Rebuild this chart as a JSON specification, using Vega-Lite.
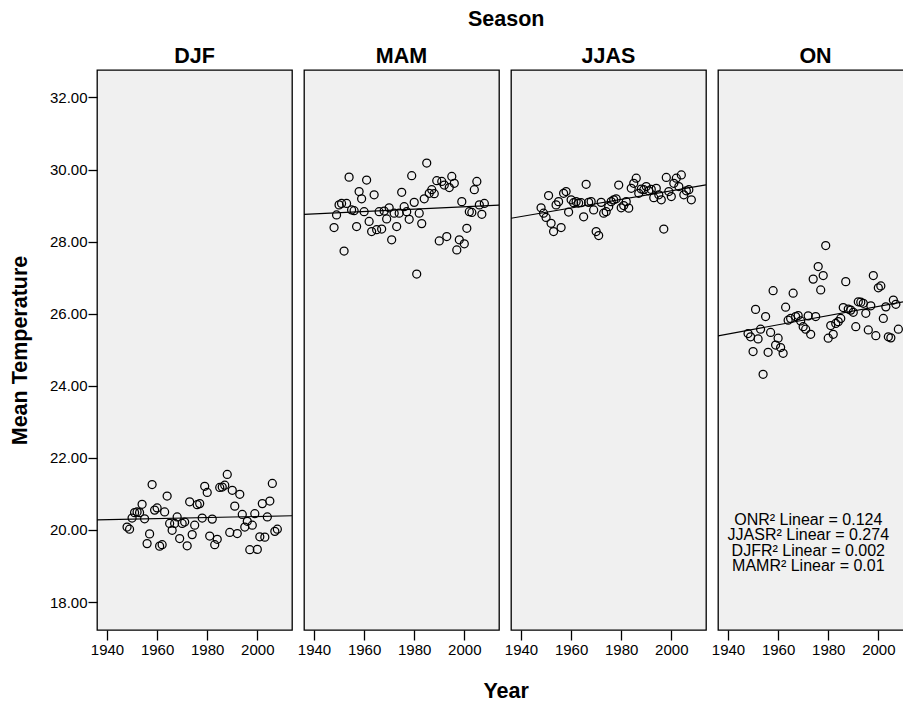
{
  "$schema": "https://vega.github.io/schema/vega-lite/v6.json",
  "padding": {"left": 8, "top": 8, "right": 0, "bottom": 0},
  "background": "#ffffff",
  "config": {
    "font": "Liberation Sans",
    "view": {"fill": "#f0f0f0", "stroke": "#000000", "strokeWidth": 1.3},
    "axis": {"grid": false, "domain": false, "tickColor": "#000000", "tickWidth": 1.3, "labelColor": "#000000", "labelFont": "Liberation Sans", "labelFontSize": 15, "titleFont": "Liberation Sans", "titleFontSize": 21.5, "titleFontWeight": "bold", "titleColor": "#000000"},
    "title": {"font": "Liberation Sans", "fontSize": 21.5, "fontWeight": "bold", "color": "#000000"}
  },
  "datasets": {
    "temps": [
      {"season":"DJF","year":1948,"temp":20.08},{"season":"DJF","year":1949,"temp":20.02},{"season":"DJF","year":1950,"temp":20.33},{"season":"DJF","year":1951,"temp":20.48},{"season":"DJF","year":1952,"temp":20.50},{"season":"DJF","year":1953,"temp":20.48},{"season":"DJF","year":1954,"temp":20.71},{"season":"DJF","year":1955,"temp":20.31},{"season":"DJF","year":1956,"temp":19.62},{"season":"DJF","year":1957,"temp":19.89},{"season":"DJF","year":1958,"temp":21.26},{"season":"DJF","year":1959,"temp":20.55},{"season":"DJF","year":1960,"temp":20.61},{"season":"DJF","year":1961,"temp":19.55},{"season":"DJF","year":1962,"temp":19.59},{"season":"DJF","year":1963,"temp":20.50},{"season":"DJF","year":1964,"temp":20.94},{"season":"DJF","year":1965,"temp":20.18},{"season":"DJF","year":1966,"temp":19.99},{"season":"DJF","year":1967,"temp":20.18},{"season":"DJF","year":1968,"temp":20.36},{"season":"DJF","year":1969,"temp":19.76},{"season":"DJF","year":1970,"temp":20.18},{"season":"DJF","year":1971,"temp":20.22},{"season":"DJF","year":1972,"temp":19.56},{"season":"DJF","year":1973,"temp":20.78},{"season":"DJF","year":1974,"temp":19.87},{"season":"DJF","year":1975,"temp":20.13},{"season":"DJF","year":1976,"temp":20.70},{"season":"DJF","year":1977,"temp":20.73},{"season":"DJF","year":1978,"temp":20.33},{"season":"DJF","year":1979,"temp":21.21},{"season":"DJF","year":1980,"temp":21.04},{"season":"DJF","year":1981,"temp":19.83},{"season":"DJF","year":1982,"temp":20.30},{"season":"DJF","year":1983,"temp":19.59},{"season":"DJF","year":1984,"temp":19.74},{"season":"DJF","year":1985,"temp":21.18},{"season":"DJF","year":1986,"temp":21.19},{"season":"DJF","year":1987,"temp":21.24},{"season":"DJF","year":1988,"temp":21.54},{"season":"DJF","year":1989,"temp":19.93},{"season":"DJF","year":1990,"temp":21.10},{"season":"DJF","year":1991,"temp":20.66},{"season":"DJF","year":1992,"temp":19.90},{"season":"DJF","year":1993,"temp":20.99},{"season":"DJF","year":1994,"temp":20.43},{"season":"DJF","year":1995,"temp":20.08},{"season":"DJF","year":1996,"temp":20.24},{"season":"DJF","year":1997,"temp":19.45},{"season":"DJF","year":1998,"temp":20.13},{"season":"DJF","year":1999,"temp":20.45},{"season":"DJF","year":2000,"temp":19.46},{"season":"DJF","year":2001,"temp":19.81},{"season":"DJF","year":2002,"temp":20.73},{"season":"DJF","year":2003,"temp":19.80},{"season":"DJF","year":2004,"temp":20.36},{"season":"DJF","year":2005,"temp":20.80},{"season":"DJF","year":2006,"temp":21.29},{"season":"DJF","year":2007,"temp":19.96},{"season":"DJF","year":2008,"temp":20.02},
      {"season":"MAM","year":1948,"temp":28.39},{"season":"MAM","year":1949,"temp":28.74},{"season":"MAM","year":1950,"temp":29.02},{"season":"MAM","year":1951,"temp":29.06},{"season":"MAM","year":1952,"temp":27.74},{"season":"MAM","year":1953,"temp":29.06},{"season":"MAM","year":1954,"temp":29.79},{"season":"MAM","year":1955,"temp":28.88},{"season":"MAM","year":1956,"temp":28.86},{"season":"MAM","year":1957,"temp":28.42},{"season":"MAM","year":1958,"temp":29.39},{"season":"MAM","year":1959,"temp":29.19},{"season":"MAM","year":1960,"temp":28.83},{"season":"MAM","year":1961,"temp":29.71},{"season":"MAM","year":1962,"temp":28.56},{"season":"MAM","year":1963,"temp":28.28},{"season":"MAM","year":1964,"temp":29.30},{"season":"MAM","year":1965,"temp":28.33},{"season":"MAM","year":1966,"temp":28.83},{"season":"MAM","year":1967,"temp":28.35},{"season":"MAM","year":1968,"temp":28.85},{"season":"MAM","year":1969,"temp":28.63},{"season":"MAM","year":1970,"temp":28.94},{"season":"MAM","year":1971,"temp":28.05},{"season":"MAM","year":1972,"temp":28.79},{"season":"MAM","year":1973,"temp":28.42},{"season":"MAM","year":1974,"temp":28.79},{"season":"MAM","year":1975,"temp":29.37},{"season":"MAM","year":1976,"temp":28.97},{"season":"MAM","year":1977,"temp":28.83},{"season":"MAM","year":1978,"temp":28.62},{"season":"MAM","year":1979,"temp":29.83},{"season":"MAM","year":1980,"temp":29.09},{"season":"MAM","year":1981,"temp":27.10},{"season":"MAM","year":1982,"temp":28.79},{"season":"MAM","year":1983,"temp":28.50},{"season":"MAM","year":1984,"temp":29.19},{"season":"MAM","year":1985,"temp":30.18},{"season":"MAM","year":1986,"temp":29.34},{"season":"MAM","year":1987,"temp":29.44},{"season":"MAM","year":1988,"temp":29.33},{"season":"MAM","year":1989,"temp":29.69},{"season":"MAM","year":1990,"temp":28.02},{"season":"MAM","year":1991,"temp":29.67},{"season":"MAM","year":1992,"temp":29.57},{"season":"MAM","year":1993,"temp":28.14},{"season":"MAM","year":1994,"temp":29.50},{"season":"MAM","year":1995,"temp":29.81},{"season":"MAM","year":1996,"temp":29.62},{"season":"MAM","year":1997,"temp":27.77},{"season":"MAM","year":1998,"temp":28.05},{"season":"MAM","year":1999,"temp":29.11},{"season":"MAM","year":2000,"temp":27.94},{"season":"MAM","year":2001,"temp":28.37},{"season":"MAM","year":2002,"temp":28.83},{"season":"MAM","year":2003,"temp":28.81},{"season":"MAM","year":2004,"temp":29.44},{"season":"MAM","year":2005,"temp":29.67},{"season":"MAM","year":2006,"temp":29.02},{"season":"MAM","year":2007,"temp":28.76},{"season":"MAM","year":2008,"temp":29.06},
      {"season":"JJAS","year":1948,"temp":28.94},{"season":"JJAS","year":1949,"temp":28.79},{"season":"JJAS","year":1950,"temp":28.67},{"season":"JJAS","year":1951,"temp":29.28},{"season":"JJAS","year":1952,"temp":28.51},{"season":"JJAS","year":1953,"temp":28.28},{"season":"JJAS","year":1954,"temp":29.02},{"season":"JJAS","year":1955,"temp":29.11},{"season":"JJAS","year":1956,"temp":28.39},{"season":"JJAS","year":1957,"temp":29.34},{"season":"JJAS","year":1958,"temp":29.39},{"season":"JJAS","year":1959,"temp":28.82},{"season":"JJAS","year":1960,"temp":29.16},{"season":"JJAS","year":1961,"temp":29.08},{"season":"JJAS","year":1962,"temp":29.11},{"season":"JJAS","year":1963,"temp":29.07},{"season":"JJAS","year":1964,"temp":29.08},{"season":"JJAS","year":1965,"temp":28.69},{"season":"JJAS","year":1966,"temp":29.59},{"season":"JJAS","year":1967,"temp":29.09},{"season":"JJAS","year":1968,"temp":29.11},{"season":"JJAS","year":1969,"temp":28.88},{"season":"JJAS","year":1970,"temp":28.28},{"season":"JJAS","year":1971,"temp":28.17},{"season":"JJAS","year":1972,"temp":29.09},{"season":"JJAS","year":1973,"temp":28.79},{"season":"JJAS","year":1974,"temp":28.83},{"season":"JJAS","year":1975,"temp":28.97},{"season":"JJAS","year":1976,"temp":29.11},{"season":"JJAS","year":1977,"temp":29.16},{"season":"JJAS","year":1978,"temp":29.19},{"season":"JJAS","year":1979,"temp":29.57},{"season":"JJAS","year":1980,"temp":28.94},{"season":"JJAS","year":1981,"temp":29.00},{"season":"JJAS","year":1982,"temp":29.11},{"season":"JJAS","year":1983,"temp":28.93},{"season":"JJAS","year":1984,"temp":29.48},{"season":"JJAS","year":1985,"temp":29.62},{"season":"JJAS","year":1986,"temp":29.76},{"season":"JJAS","year":1987,"temp":29.34},{"season":"JJAS","year":1988,"temp":29.46},{"season":"JJAS","year":1989,"temp":29.44},{"season":"JJAS","year":1990,"temp":29.53},{"season":"JJAS","year":1991,"temp":29.41},{"season":"JJAS","year":1992,"temp":29.45},{"season":"JJAS","year":1993,"temp":29.22},{"season":"JJAS","year":1994,"temp":29.48},{"season":"JJAS","year":1995,"temp":29.30},{"season":"JJAS","year":1996,"temp":29.16},{"season":"JJAS","year":1997,"temp":28.35},{"season":"JJAS","year":1998,"temp":29.78},{"season":"JJAS","year":1999,"temp":29.39},{"season":"JJAS","year":2000,"temp":29.25},{"season":"JJAS","year":2001,"temp":29.62},{"season":"JJAS","year":2002,"temp":29.76},{"season":"JJAS","year":2003,"temp":29.53},{"season":"JJAS","year":2004,"temp":29.85},{"season":"JJAS","year":2005,"temp":29.30},{"season":"JJAS","year":2006,"temp":29.41},{"season":"JJAS","year":2007,"temp":29.44},{"season":"JJAS","year":2008,"temp":29.16},
      {"season":"ON","year":1948,"temp":25.45},{"season":"ON","year":1949,"temp":25.36},{"season":"ON","year":1950,"temp":24.95},{"season":"ON","year":1951,"temp":26.12},{"season":"ON","year":1952,"temp":25.30},{"season":"ON","year":1953,"temp":25.57},{"season":"ON","year":1954,"temp":24.32},{"season":"ON","year":1955,"temp":25.92},{"season":"ON","year":1956,"temp":24.93},{"season":"ON","year":1957,"temp":25.48},{"season":"ON","year":1958,"temp":26.64},{"season":"ON","year":1959,"temp":25.13},{"season":"ON","year":1960,"temp":25.32},{"season":"ON","year":1961,"temp":25.06},{"season":"ON","year":1962,"temp":24.90},{"season":"ON","year":1963,"temp":26.18},{"season":"ON","year":1964,"temp":25.82},{"season":"ON","year":1965,"temp":25.87},{"season":"ON","year":1966,"temp":26.57},{"season":"ON","year":1967,"temp":25.92},{"season":"ON","year":1968,"temp":25.95},{"season":"ON","year":1969,"temp":25.80},{"season":"ON","year":1970,"temp":25.64},{"season":"ON","year":1971,"temp":25.57},{"season":"ON","year":1972,"temp":25.94},{"season":"ON","year":1973,"temp":25.43},{"season":"ON","year":1974,"temp":26.96},{"season":"ON","year":1975,"temp":25.92},{"season":"ON","year":1976,"temp":27.31},{"season":"ON","year":1977,"temp":26.66},{"season":"ON","year":1978,"temp":27.06},{"season":"ON","year":1979,"temp":27.89},{"season":"ON","year":1980,"temp":25.32},{"season":"ON","year":1981,"temp":25.67},{"season":"ON","year":1982,"temp":25.43},{"season":"ON","year":1983,"temp":25.73},{"season":"ON","year":1984,"temp":25.78},{"season":"ON","year":1985,"temp":25.87},{"season":"ON","year":1986,"temp":26.17},{"season":"ON","year":1987,"temp":26.89},{"season":"ON","year":1988,"temp":26.13},{"season":"ON","year":1989,"temp":26.10},{"season":"ON","year":1990,"temp":26.04},{"season":"ON","year":1991,"temp":25.64},{"season":"ON","year":1992,"temp":26.33},{"season":"ON","year":1993,"temp":26.32},{"season":"ON","year":1994,"temp":26.29},{"season":"ON","year":1995,"temp":26.01},{"season":"ON","year":1996,"temp":25.55},{"season":"ON","year":1997,"temp":26.22},{"season":"ON","year":1998,"temp":27.06},{"season":"ON","year":1999,"temp":25.39},{"season":"ON","year":2000,"temp":26.72},{"season":"ON","year":2001,"temp":26.77},{"season":"ON","year":2002,"temp":25.87},{"season":"ON","year":2003,"temp":26.19},{"season":"ON","year":2004,"temp":25.36},{"season":"ON","year":2005,"temp":25.33},{"season":"ON","year":2006,"temp":26.38},{"season":"ON","year":2007,"temp":26.26},{"season":"ON","year":2008,"temp":25.57}
    ]
  },
  "title": {"text": "Year", "orient": "bottom", "baseline": "alphabetic", "offset": 40, "dx": 49, "anchor": "middle"},
  "vconcat": [
    {
      "title": {"text": "Season", "baseline": "alphabetic", "offset": -2, "dx": 49, "anchor": "middle"},
      "spacing": 12,
      "bounds": "flush",
      "hconcat": [
        {
          "width": 195, "height": 560,
          "data": {"name": "temps"},
          "transform": [{"filter": "datum.season === 'DJF'"}],
          "title": {"text": "DJF", "baseline": "alphabetic", "offset": -14.5, "anchor": "middle", "frame": "group"},
          "layer": [
            {
              "mark": {"type": "point", "shape": "circle", "filled": false, "color": "#000000", "size": 64, "strokeWidth": 1.25, "opacity": 1},
              "encoding": {
                "x": {"field": "year", "type": "quantitative", "scale": {"domain": [1936, 2013.85], "nice": false, "zero": false}, "axis": {"values": [1940, 1960, 1980, 2000], "format": "d", "tickSize": 10, "labelPadding": 2, "title": null}},
                "y": {"field": "temp", "type": "quantitative", "scale": {"domain": [17.223, 32.763], "nice": false, "zero": false}, "axis": {"values": [18, 20, 22, 24, 26, 28, 30, 32], "format": ".2f", "tickSize": 9, "labelPadding": 1, "title": "Mean Temperature", "titlePadding": 18}}
              }
            },
            {
              "transform": [{"regression": "temp", "on": "year", "extent": [1936, 2013.85]}],
              "mark": {"type": "line", "color": "#000000", "strokeWidth": 1.2, "clip": true},
              "encoding": {"x": {"field": "year", "type": "quantitative"}, "y": {"field": "temp", "type": "quantitative"}}
            }
          ]
        },
        {
          "width": 195, "height": 560,
          "data": {"name": "temps"},
          "transform": [{"filter": "datum.season === 'MAM'"}],
          "title": {"text": "MAM", "baseline": "alphabetic", "offset": -14.5, "anchor": "middle", "frame": "group"},
          "layer": [
            {
              "mark": {"type": "point", "shape": "circle", "filled": false, "color": "#000000", "size": 64, "strokeWidth": 1.25, "opacity": 1},
              "encoding": {
                "x": {"field": "year", "type": "quantitative", "scale": {"domain": [1936, 2013.85], "nice": false, "zero": false}, "axis": {"values": [1940, 1960, 1980, 2000], "format": "d", "tickSize": 10, "labelPadding": 2, "title": null}},
                "y": {"field": "temp", "type": "quantitative", "scale": {"domain": [17.223, 32.763], "nice": false, "zero": false}, "axis": null}
              }
            },
            {
              "transform": [{"regression": "temp", "on": "year", "extent": [1936, 2013.85]}],
              "mark": {"type": "line", "color": "#000000", "strokeWidth": 1.2, "clip": true},
              "encoding": {"x": {"field": "year", "type": "quantitative"}, "y": {"field": "temp", "type": "quantitative"}}
            }
          ]
        },
        {
          "width": 195, "height": 560,
          "data": {"name": "temps"},
          "transform": [{"filter": "datum.season === 'JJAS'"}],
          "title": {"text": "JJAS", "baseline": "alphabetic", "offset": -14.5, "anchor": "middle", "frame": "group"},
          "layer": [
            {
              "mark": {"type": "point", "shape": "circle", "filled": false, "color": "#000000", "size": 64, "strokeWidth": 1.25, "opacity": 1},
              "encoding": {
                "x": {"field": "year", "type": "quantitative", "scale": {"domain": [1936, 2013.85], "nice": false, "zero": false}, "axis": {"values": [1940, 1960, 1980, 2000], "format": "d", "tickSize": 10, "labelPadding": 2, "title": null}},
                "y": {"field": "temp", "type": "quantitative", "scale": {"domain": [17.223, 32.763], "nice": false, "zero": false}, "axis": null}
              }
            },
            {
              "transform": [{"regression": "temp", "on": "year", "extent": [1936, 2013.85]}],
              "mark": {"type": "line", "color": "#000000", "strokeWidth": 1.2, "clip": true},
              "encoding": {"x": {"field": "year", "type": "quantitative"}, "y": {"field": "temp", "type": "quantitative"}}
            }
          ]
        },
        {
          "width": 186, "height": 560,
          "data": {"name": "temps"},
          "transform": [{"filter": "datum.season === 'ON'"}],
          "title": {"text": "ON", "baseline": "alphabetic", "offset": -14.5, "anchor": "middle", "frame": "group", "dx": 4.5},
          "layer": [
            {
              "mark": {"type": "point", "shape": "circle", "filled": false, "color": "#000000", "size": 64, "strokeWidth": 1.25, "opacity": 1},
              "encoding": {
                "x": {"field": "year", "type": "quantitative", "scale": {"domain": [1936, 2010.25], "nice": false, "zero": false}, "axis": {"values": [1940, 1960, 1980, 2000], "format": "d", "tickSize": 10, "labelPadding": 2, "title": null}},
                "y": {"field": "temp", "type": "quantitative", "scale": {"domain": [17.223, 32.763], "nice": false, "zero": false}, "axis": null}
              }
            },
            {
              "transform": [{"regression": "temp", "on": "year", "extent": [1936, 2013.85]}],
              "mark": {"type": "line", "color": "#000000", "strokeWidth": 1.2, "clip": true},
              "encoding": {"x": {"field": "year", "type": "quantitative"}, "y": {"field": "temp", "type": "quantitative"}}
            },
            {
              "data": {"values": [{"note": "fit"}]},
              "mark": {"type": "text", "text": ["ONR² Linear = 0.124", "JJASR² Linear = 0.274", "DJFR² Linear = 0.002", "MAMR² Linear = 0.01"], "font": "Liberation Sans", "fontSize": 16, "lineHeight": 15.5, "align": "center", "baseline": "alphabetic", "color": "#000000"},
              "encoding": {"x": {"datum": 1972.05}, "y": {"datum": 20.145}}
            }
          ]
        }
      ]
    }
  ]
}
